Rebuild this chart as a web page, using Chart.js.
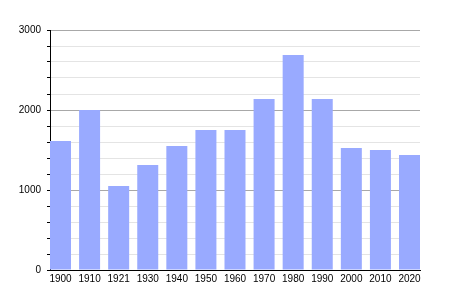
<!DOCTYPE html>
<html>
<head>
<meta charset="utf-8">
<script src="https://cdn.jsdelivr.net/npm/chart.js@4"></script>
<style>
  html, body { margin: 0; padding: 0; background: #fff; }
  #wrap { width: 450px; height: 300px; }
</style>
</head>
<body>
<div id="wrap"><canvas id="grafico"></canvas></div>
<script>
// años del censo y población
const anios = ["1900", "1910", "1921", "1930", "1940", "1950", "1960", "1970", "1980", "1990", "2000", "2010", "2020"];
const poblacion = [1612, 2000, 1050, 1312, 1550, 1750, 1750, 2137, 2687, 2137, 1525, 1500, 1437];
const ticksY = [0, 1000, 2000, 3000];

const puntos = poblacion.map((v, i) => ({ x: i, y: v }));

const ctx = document.getElementById("grafico");

new Chart(ctx, {
    type: 'bar',
    data: {
        datasets: [{
            data: puntos,
            backgroundColor: '#99aaff',
            borderWidth: 0,
            barPercentage: 1,
            categoryPercentage: 0.722
        }]
    },
    options: {
        responsive: true,
        maintainAspectRatio: false,
        animation: false,
        layout: { padding: { left: 0, right: 30, top: 30, bottom: 0 } },
        plugins: { legend: { display: false }, tooltip: { enabled: false } },
        scales: {
            x: {
                type: 'linear',
                offset: false,
                min: -0.361,
                max: anios.length - 1 + 0.361,
                afterBuildTicks: s => { s.ticks = anios.map((a, i) => ({ value: i })); },
                afterFit: s => { s.height = 30; },
                grid: { display: false, offset: false, drawTicks: false },
                border: { display: true, color: '#000', width: 1 },
                ticks: {
                    padding: 3,
                    color: '#000',
                    font: { family: 'Liberation Sans', size: 10 },
                    maxRotation: 0,
                    autoSkip: false,
                    callback: v => anios[v] ?? ''
                }
            },
            y: {
                min: 0,
                max: 3000,
                afterBuildTicks: s => {
                    const t = [];
                    for (let v = 0; v <= 3000; v += 200) t.push({ value: v });
                    s.ticks = t;
                },
                afterFit: s => { s.width = 50; },
                border: { display: true, color: '#000', width: 1 },
                grid: {
                    color: c => (c.tick && c.tick.value % 1000 === 0) ? '#a8a8a8' : '#e4e4e4',
                    tickColor: '#000',
                    tickLength: 3,
                    lineWidth: 1
                },
                ticks: {
                    padding: 6,
                    color: '#000',
                    font: { family: 'Liberation Sans', size: 10 },
                    autoSkip: false,
                    callback: v => ticksY.includes(v) ? String(v) : ''
                }
            }
        }
    }
});
</script>
</body>
</html>
